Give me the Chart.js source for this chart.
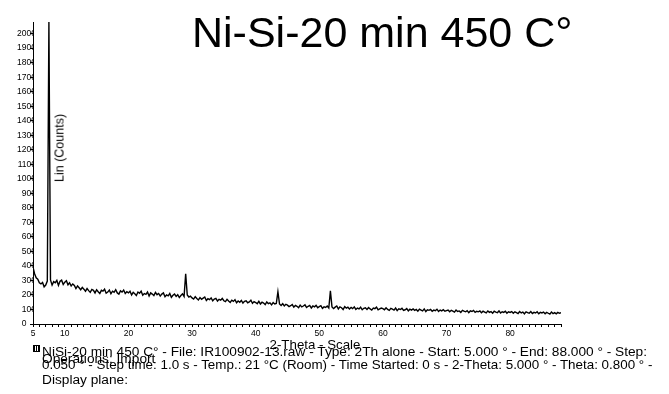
<!DOCTYPE html>
<html>
<head>
<meta charset="utf-8">
<script src="https://cdn.jsdelivr.net/npm/chart.js@4.4.1/dist/chart.umd.min.js"></script>
<style>
  body { margin: 0; background: #fff; }
  #wrap { position: relative; width: 669px; height: 394px; font-family: "Liberation Sans", Arial, sans-serif; color: #000; }
  #xrd { position: absolute; left: 0; top: 0; }
  .t { position: absolute; white-space: nowrap; }
  #title { left: 192px; top: 11px; font-size: 43px; line-height: 43px; }
  #ylab { left: 60px; top: 148px; font-size: 12.5px; line-height: 13px; transform: translate(-50%, -50%) rotate(-90deg); }
  #xlab { left: 315px; top: 338px; font-size: 13.3px; line-height: 13px; transform: translateX(-50%); }
  #icon { position: absolute; left: 33px; top: 345px; width: 5px; height: 5px; border: 1px solid #000; background: repeating-linear-gradient(90deg, #000 0 1px, #fff 1px 2px); }
  .f { left: 42px; font-size: 13.7px; line-height: 13px; }
</style>
</head>
<body>
<div id="wrap">
  <canvas id="xrd" width="669" height="394"></canvas>
  <div class="t" id="title">Ni-Si-20 min 450 C°</div>
  <div class="t" id="ylab">Lin (Counts)</div>
  <div class="t" id="xlab">2-Theta - Scale</div>
  <div id="icon"></div>
  <div class="t f" style="top:345px">NiSi-20 min 450 C° - File: IR100902-13.raw - Type: 2Th alone - Start: 5.000 ° - End: 88.000 ° - Step:</div>
  <div class="t f" style="top:352px">Operations: Import</div>
  <div class="t f" style="top:358px; font-size:13.4px">0.050 ° - Step time: 1.0 s - Temp.: 21 °C (Room) - Time Started: 0 s - 2-Theta: 5.000 ° - Theta: 0.800 ° -</div>
  <div class="t f" style="top:373px">Display plane:</div>
</div>
<script>
// scan settings (2-theta, degrees)
const scanStart = 5;
const scanEnd = 88;
const scanStep = 0.25;

// intensity, one value per step from 5.00 to 88.00
const counts = [
  392, 346, 318, 308, 284, 276, 286, 256, 268, 296, 2080, 304, 268, 292, 284, 300, 266, 294, 302, 272,
  288, 298, 270, 284, 262, 276, 266, 244, 262, 250, 236, 252, 240, 226, 244, 230, 218, 238, 232, 214,
  236, 222, 210, 232, 226, 240, 212, 220, 234, 208, 226, 218, 236, 214, 206, 228, 220, 234, 210, 222,
  214, 226, 200, 218, 208, 196, 220, 212, 226, 198, 210, 204, 220, 192, 214, 206, 196, 218, 202, 210,
  192, 206, 214, 188, 200, 194, 210, 184, 198, 206, 190, 202, 182, 196, 208, 190, 345, 200, 186, 192,
  180, 172, 188, 176, 166, 182, 170, 178, 186, 162, 174, 168, 180, 160, 172, 176, 158, 170, 164, 176,
  160, 154, 170, 158, 148, 164, 156, 168, 146, 158, 150, 162, 144, 156, 160, 146, 152, 164, 142, 154,
  148, 140, 156, 138, 150, 144, 134, 152, 140, 146, 132, 148, 138, 142, 222, 138, 128, 140, 124, 136,
  130, 120, 126, 134, 116, 128, 122, 112, 130, 118, 124, 132, 114, 122, 128, 110, 124, 118, 128, 112,
  120, 126, 108, 118, 114, 124, 110, 228, 118, 106, 116, 124, 104, 118, 112, 100, 120, 110, 116, 104,
  114, 106, 118, 100, 110, 104, 116, 98, 108, 112, 100, 114, 104, 96, 110, 106, 116, 98, 104, 110,
  106, 98, 112, 100, 94, 108, 102, 96, 110, 92, 104, 100, 108, 94, 98, 106, 90, 102, 96, 104,
  94, 100, 88, 102, 96, 90, 104, 86, 98, 94, 100, 88, 96, 92, 102, 86, 96, 90, 98, 88,
  92, 96, 84, 94, 88, 82, 96, 86, 90, 80, 94, 88, 84, 92, 78, 90, 86, 94, 80, 88,
  84, 90, 78, 88, 82, 76, 90, 80, 86, 74, 88, 82, 78, 90, 76, 84, 80, 88, 74, 84,
  80, 86, 74, 84, 78, 72, 86, 76, 82, 70, 84, 78, 74, 86, 72, 80, 76, 84, 70, 80,
  76, 82, 70, 80, 74, 68, 82, 72, 78, 70, 80, 74, 78
];

// axis ticks
const xLabelled = [5, 10, 20, 30, 40, 50, 60, 70, 80];
const yMax = 2080;
const yStep = 100;

const points = counts.map((c, i) => ({ x: scanStart + i * scanStep, y: c }));
const tickFont = { family: 'Liberation Sans', size: 8.5 };

const ctx = document.getElementById('xrd').getContext('2d');
new Chart(ctx, {
    type: 'line',
    data: {
        datasets: [{
            data: points,
            borderColor: '#000',
            borderWidth: 1.4,
            pointRadius: 0,
            tension: 0
        }]
    },
    options: {
        responsive: false,
        animation: false,
        layout: { padding: { left: 0, right: 108, top: 22, bottom: 0 } },
        plugins: { legend: { display: false }, tooltip: { enabled: false } },
        scales: {
            x: {
                type: 'linear',
                min: scanStart,
                max: scanEnd,
                afterFit: s => { s.height = 70; },
                border: { color: '#000', width: 1 },
                grid: { drawOnChartArea: false, color: '#000', tickLength: 3 },
                ticks: {
                    stepSize: 1,
                    autoSkip: false,
                    maxRotation: 0,
                    padding: 2,
                    color: '#000',
                    font: tickFont,
                    callback: v => xLabelled.includes(v) ? String(v) : ''
                }
            },
            y: {
                min: 0,
                max: yMax,
                afterFit: s => { s.width = 33; },
                border: { color: '#000', width: 1 },
                grid: { drawOnChartArea: false, color: '#000', tickLength: 3 },
                ticks: {
                    stepSize: yStep,
                    includeBounds: false,
                    padding: -6,
                    color: '#000',
                    font: tickFont,
                    // the zero sits a little further left in the original
                    callback: v => v === 0 ? '0    ' : String(v)
                }
            }
        }
    }
});
</script>
</body>
</html>
